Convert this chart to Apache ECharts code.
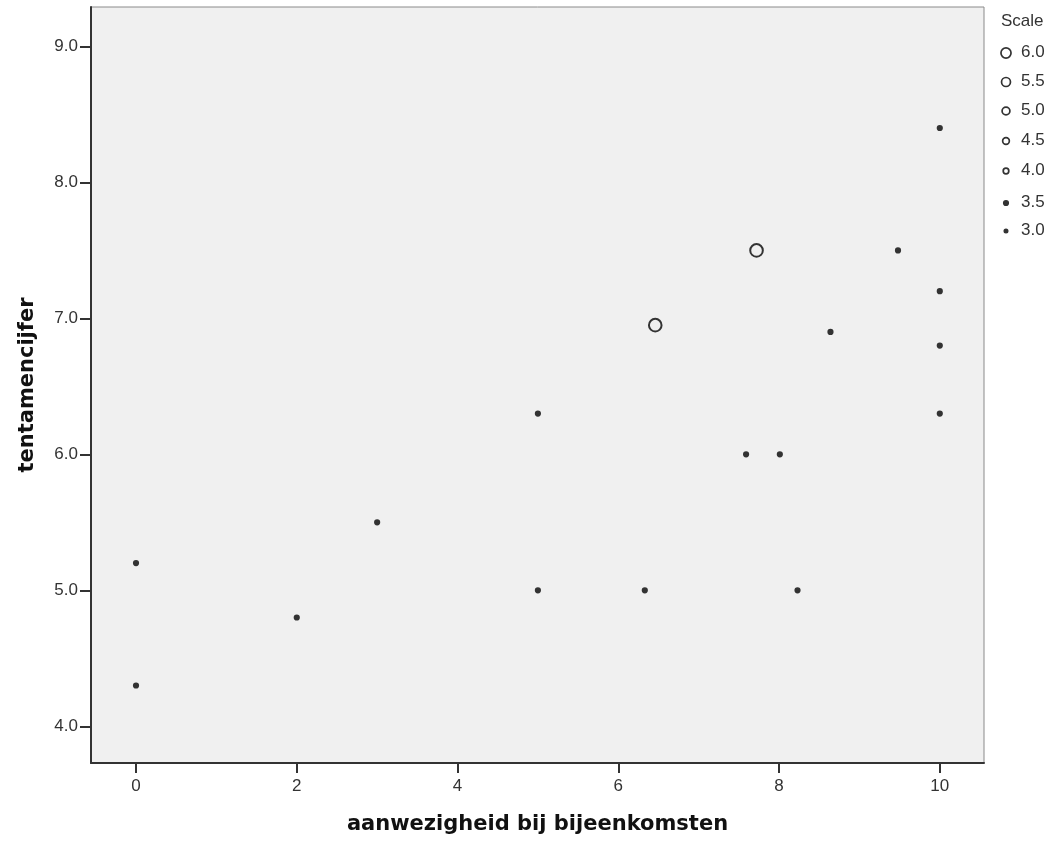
<!DOCTYPE html>
<html>
<head>
<meta charset="utf-8">
<script src="https://cdn.jsdelivr.net/npm/echarts@6/dist/echarts.min.js"></script>
<style>html,body{margin:0;padding:0;background:#fff}#c{width:1055px;height:845px}</style>
</head>
<body>
<div id="c"></div>
<script>
// attendance (x), exam grade (y), scale value
const attendance = [0, 0, 2, 3, 5, 5, 6.33, 6.46, 7.59, 7.72, 8.01, 8.23, 8.64, 9.48, 10, 10, 10, 10];
const grade      = [5.2, 4.3, 4.8, 5.5, 6.3, 5.0, 5.0, 6.95, 6.0, 7.5, 6.0, 5.0, 6.9, 7.5, 8.4, 7.2, 6.8, 6.3];
const scale      = [3.0, 3.0, 3.0, 3.0, 3.0, 3.0, 3.0, 6.0, 3.0, 6.0, 3.0, 3.0, 3.0, 3.0, 3.0, 3.0, 3.0, 3.0];
const xTicks = [0, 2, 4, 6, 8, 10];
const yTicks = [4, 5, 6, 7, 8, 9];
const legendValues = [6.0, 5.5, 5.0, 4.5, 4.0, 3.5, 3.0];
const legendTitle = 'Scale';
const xTitle = 'aanwezigheid bij bijeenkomsten';
const yTitle = 'tentamencijfer';

function sizeOf(v) { return 4.2 + (v - 3) * 2.8; }
const dark = '#333333';

const data = attendance.map((x, i) => [x, grade[i], scale[i]]);

const legendGraphics = [{
  type: 'text', left: 1001, top: 13,
  style: { text: legendTitle, fontFamily: 'Liberation Sans', fontSize: 17, fill: '#333' }
}];
const legendY = [53, 82, 111, 141, 171, 203, 231];
legendValues.forEach((v, i) => {
  const r = sizeOf(v) * 0.8 / 2;
  legendGraphics.push({
    type: 'circle', shape: { cx: 1006, cy: legendY[i], r: r },
    style: { fill: r < 2.6 ? dark : 'none', stroke: dark, lineWidth: 1.7 }
  });
  legendGraphics.push({
    type: 'text', left: 1021, top: legendY[i] - 9,
    style: { text: v.toFixed(1), fontFamily: 'Liberation Sans', fontSize: 17, fill: '#333' }
  });
});

const chart = echarts.init(document.getElementById('c'), null, { renderer: 'canvas' });
chart.setOption({
  backgroundColor: '#ffffff',
  animation: false,
  grid: {
    left: 91, top: 7, right: 71, bottom: 82,
    show: true, backgroundColor: '#f0f0f0', borderColor: '#8a8a8a', borderWidth: 1
  },
  xAxis: {
    type: 'value', min: -0.56, max: 10.55,
    name: xTitle, nameLocation: 'middle', nameGap: 51,
    nameTextStyle: { fontFamily: 'DejaVu Sans', fontWeight: 'bold', fontSize: 21, color: '#111' },
    axisLine: { show: true, onZero: false, lineStyle: { color: '#333', width: 2 } },
    axisTick: { show: true, length: 10, customValues: xTicks, lineStyle: { color: '#333', width: 2 } },
    axisLabel: { customValues: xTicks, margin: 15, fontFamily: 'Liberation Sans', fontSize: 17, color: '#333',
      formatter: v => String(v) },
    splitLine: { show: false }
  },
  yAxis: {
    type: 'value', min: 3.73, max: 9.29,
    name: yTitle, nameLocation: 'middle', nameGap: 53, nameRotate: 90,
    nameTextStyle: { fontFamily: 'DejaVu Sans', fontWeight: 'bold', fontSize: 21, color: '#111' },
    axisLine: { show: true, onZero: false, lineStyle: { color: '#333', width: 2 } },
    axisTick: { show: true, length: 11, customValues: yTicks, lineStyle: { color: '#333', width: 2 } },
    axisLabel: { customValues: yTicks, margin: 13, fontFamily: 'Liberation Sans', fontSize: 17, color: '#333',
      formatter: v => v.toFixed(1) },
    splitLine: { show: false }
  },
  graphic: legendGraphics,
  series: [{
    type: 'scatter',
    data: data,
    symbol: 'circle',
    symbolSize: v => sizeOf(v[2]),
    itemStyle: {
      color: p => (sizeOf(p.value[2]) < 6 ? dark : 'rgba(0,0,0,0)'),
      borderColor: dark, borderWidth: 2, opacity: 1
    },
    emphasis: { disabled: true }
  }]
});
</script>
</body>
</html>
